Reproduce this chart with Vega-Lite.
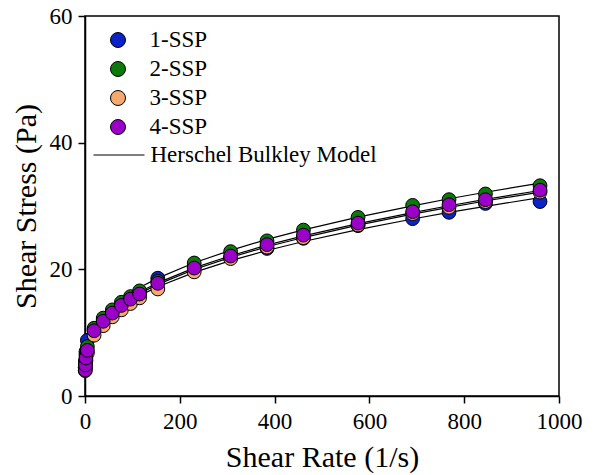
{
  "$schema": "https://vega.github.io/schema/vega-lite/v6.json",
  "width": 474,
  "height": 380,
  "autosize": {"type": "none"},
  "padding": {"left": 85, "top": 16, "right": 34, "bottom": 79},
  "background": "white",
  "datasets": {
    "pts": [
      {"s": "1-SSP", "x": 0.5, "y": 4.5}, {"s": "1-SSP", "x": 1, "y": 5.5}, {"s": "1-SSP", "x": 2, "y": 7.0}, {"s": "1-SSP", "x": 5, "y": 8.8},
      {"s": "1-SSP", "x": 19.2, "y": 10.5}, {"s": "1-SSP", "x": 38.4, "y": 12.0}, {"s": "1-SSP", "x": 57.6, "y": 13.2}, {"s": "1-SSP", "x": 76.8, "y": 14.2},
      {"s": "1-SSP", "x": 96, "y": 15.2}, {"s": "1-SSP", "x": 115.2, "y": 16.2}, {"s": "1-SSP", "x": 153.6, "y": 18.6}, {"s": "1-SSP", "x": 230.4, "y": 20.3},
      {"s": "1-SSP", "x": 307.2, "y": 21.8}, {"s": "1-SSP", "x": 384, "y": 23.3}, {"s": "1-SSP", "x": 460.8, "y": 24.9}, {"s": "1-SSP", "x": 576, "y": 26.9},
      {"s": "1-SSP", "x": 691.2, "y": 28.0}, {"s": "1-SSP", "x": 768, "y": 29.0}, {"s": "1-SSP", "x": 844.8, "y": 30.4}, {"s": "1-SSP", "x": 960, "y": 30.7},
      {"s": "2-SSP", "x": 0.5, "y": 4.5}, {"s": "2-SSP", "x": 1, "y": 5.3}, {"s": "2-SSP", "x": 2, "y": 6.5}, {"s": "2-SSP", "x": 5, "y": 7.8},
      {"s": "2-SSP", "x": 19.2, "y": 10.7}, {"s": "2-SSP", "x": 38.4, "y": 12.3}, {"s": "2-SSP", "x": 57.6, "y": 13.6}, {"s": "2-SSP", "x": 76.8, "y": 14.8},
      {"s": "2-SSP", "x": 96, "y": 15.7}, {"s": "2-SSP", "x": 115.2, "y": 16.6}, {"s": "2-SSP", "x": 153.6, "y": 18.1}, {"s": "2-SSP", "x": 230.4, "y": 21.0},
      {"s": "2-SSP", "x": 307.2, "y": 22.8}, {"s": "2-SSP", "x": 384, "y": 24.5}, {"s": "2-SSP", "x": 460.8, "y": 26.2}, {"s": "2-SSP", "x": 576, "y": 28.2},
      {"s": "2-SSP", "x": 691.2, "y": 30.1}, {"s": "2-SSP", "x": 768, "y": 31.0}, {"s": "2-SSP", "x": 844.8, "y": 31.9}, {"s": "2-SSP", "x": 960, "y": 33.2},
      {"s": "3-SSP", "x": 0.5, "y": 4.0}, {"s": "3-SSP", "x": 1, "y": 4.6}, {"s": "3-SSP", "x": 2, "y": 5.6}, {"s": "3-SSP", "x": 5, "y": 6.8},
      {"s": "3-SSP", "x": 19.2, "y": 9.6}, {"s": "3-SSP", "x": 38.4, "y": 11.1}, {"s": "3-SSP", "x": 57.6, "y": 12.5}, {"s": "3-SSP", "x": 76.8, "y": 13.6},
      {"s": "3-SSP", "x": 96, "y": 14.6}, {"s": "3-SSP", "x": 115.2, "y": 15.5}, {"s": "3-SSP", "x": 153.6, "y": 16.9}, {"s": "3-SSP", "x": 230.4, "y": 19.6},
      {"s": "3-SSP", "x": 307.2, "y": 21.7}, {"s": "3-SSP", "x": 384, "y": 23.5}, {"s": "3-SSP", "x": 460.8, "y": 25.0}, {"s": "3-SSP", "x": 576, "y": 27.0},
      {"s": "3-SSP", "x": 691.2, "y": 28.8}, {"s": "3-SSP", "x": 768, "y": 29.8}, {"s": "3-SSP", "x": 844.8, "y": 30.7}, {"s": "3-SSP", "x": 960, "y": 32.2},
      {"s": "4-SSP", "x": 0.5, "y": 4.1}, {"s": "4-SSP", "x": 1, "y": 4.9}, {"s": "4-SSP", "x": 2, "y": 6.0}, {"s": "4-SSP", "x": 5, "y": 7.2},
      {"s": "4-SSP", "x": 19.2, "y": 10.3}, {"s": "4-SSP", "x": 38.4, "y": 11.8}, {"s": "4-SSP", "x": 57.6, "y": 13.1}, {"s": "4-SSP", "x": 76.8, "y": 14.3},
      {"s": "4-SSP", "x": 96, "y": 15.3}, {"s": "4-SSP", "x": 115.2, "y": 16.1}, {"s": "4-SSP", "x": 153.6, "y": 17.8}, {"s": "4-SSP", "x": 230.4, "y": 20.2},
      {"s": "4-SSP", "x": 307.2, "y": 22.1}, {"s": "4-SSP", "x": 384, "y": 23.9}, {"s": "4-SSP", "x": 460.8, "y": 25.4}, {"s": "4-SSP", "x": 576, "y": 27.3},
      {"s": "4-SSP", "x": 691.2, "y": 29.1}, {"s": "4-SSP", "x": 768, "y": 30.2}, {"s": "4-SSP", "x": 844.8, "y": 31.0}, {"s": "4-SSP", "x": 960, "y": 32.5}
    ],
    "fit": [
      {"s": "1-SSP", "m": "Herschel Bulkley Model", "x": 1, "y": 6.37}, {"s": "1-SSP", "m": "Herschel Bulkley Model", "x": 2, "y": 6.89}, {"s": "1-SSP", "m": "Herschel Bulkley Model", "x": 5, "y": 7.85}, {"s": "1-SSP", "m": "Herschel Bulkley Model", "x": 10, "y": 8.85},
      {"s": "1-SSP", "m": "Herschel Bulkley Model", "x": 19.2, "y": 10.09}, {"s": "1-SSP", "m": "Herschel Bulkley Model", "x": 38.4, "y": 11.83}, {"s": "1-SSP", "m": "Herschel Bulkley Model", "x": 57.6, "y": 13.11}, {"s": "1-SSP", "m": "Herschel Bulkley Model", "x": 76.8, "y": 14.16},
      {"s": "1-SSP", "m": "Herschel Bulkley Model", "x": 96, "y": 15.06}, {"s": "1-SSP", "m": "Herschel Bulkley Model", "x": 115.2, "y": 15.85}, {"s": "1-SSP", "m": "Herschel Bulkley Model", "x": 153.6, "y": 17.24}, {"s": "1-SSP", "m": "Herschel Bulkley Model", "x": 230.4, "y": 19.52},
      {"s": "1-SSP", "m": "Herschel Bulkley Model", "x": 307.2, "y": 21.37}, {"s": "1-SSP", "m": "Herschel Bulkley Model", "x": 384, "y": 22.98}, {"s": "1-SSP", "m": "Herschel Bulkley Model", "x": 460.8, "y": 24.39}, {"s": "1-SSP", "m": "Herschel Bulkley Model", "x": 576, "y": 26.28},
      {"s": "1-SSP", "m": "Herschel Bulkley Model", "x": 691.2, "y": 27.95}, {"s": "1-SSP", "m": "Herschel Bulkley Model", "x": 768, "y": 28.99}, {"s": "1-SSP", "m": "Herschel Bulkley Model", "x": 844.8, "y": 29.95}, {"s": "1-SSP", "m": "Herschel Bulkley Model", "x": 960, "y": 31.31},
      {"s": "2-SSP", "m": "Herschel Bulkley Model", "x": 1, "y": 7.0}, {"s": "2-SSP", "m": "Herschel Bulkley Model", "x": 2, "y": 7.55}, {"s": "2-SSP", "m": "Herschel Bulkley Model", "x": 5, "y": 8.57}, {"s": "2-SSP", "m": "Herschel Bulkley Model", "x": 10, "y": 9.65},
      {"s": "2-SSP", "m": "Herschel Bulkley Model", "x": 19.2, "y": 10.97}, {"s": "2-SSP", "m": "Herschel Bulkley Model", "x": 38.4, "y": 12.83}, {"s": "2-SSP", "m": "Herschel Bulkley Model", "x": 57.6, "y": 14.2}, {"s": "2-SSP", "m": "Herschel Bulkley Model", "x": 76.8, "y": 15.31},
      {"s": "2-SSP", "m": "Herschel Bulkley Model", "x": 96, "y": 16.28}, {"s": "2-SSP", "m": "Herschel Bulkley Model", "x": 115.2, "y": 17.12}, {"s": "2-SSP", "m": "Herschel Bulkley Model", "x": 153.6, "y": 18.61}, {"s": "2-SSP", "m": "Herschel Bulkley Model", "x": 230.4, "y": 21.04},
      {"s": "2-SSP", "m": "Herschel Bulkley Model", "x": 307.2, "y": 23.0}, {"s": "2-SSP", "m": "Herschel Bulkley Model", "x": 384, "y": 24.72}, {"s": "2-SSP", "m": "Herschel Bulkley Model", "x": 460.8, "y": 26.23}, {"s": "2-SSP", "m": "Herschel Bulkley Model", "x": 576, "y": 28.25},
      {"s": "2-SSP", "m": "Herschel Bulkley Model", "x": 691.2, "y": 30.03}, {"s": "2-SSP", "m": "Herschel Bulkley Model", "x": 768, "y": 31.14}, {"s": "2-SSP", "m": "Herschel Bulkley Model", "x": 844.8, "y": 32.17}, {"s": "2-SSP", "m": "Herschel Bulkley Model", "x": 960, "y": 33.62},
      {"s": "3-SSP", "m": "Herschel Bulkley Model", "x": 1, "y": 6.35}, {"s": "3-SSP", "m": "Herschel Bulkley Model", "x": 2, "y": 6.89}, {"s": "3-SSP", "m": "Herschel Bulkley Model", "x": 5, "y": 7.88}, {"s": "3-SSP", "m": "Herschel Bulkley Model", "x": 10, "y": 8.92},
      {"s": "3-SSP", "m": "Herschel Bulkley Model", "x": 19.2, "y": 10.21}, {"s": "3-SSP", "m": "Herschel Bulkley Model", "x": 38.4, "y": 12.01}, {"s": "3-SSP", "m": "Herschel Bulkley Model", "x": 57.6, "y": 13.34}, {"s": "3-SSP", "m": "Herschel Bulkley Model", "x": 76.8, "y": 14.42},
      {"s": "3-SSP", "m": "Herschel Bulkley Model", "x": 96, "y": 15.36}, {"s": "3-SSP", "m": "Herschel Bulkley Model", "x": 115.2, "y": 16.18}, {"s": "3-SSP", "m": "Herschel Bulkley Model", "x": 153.6, "y": 17.62}, {"s": "3-SSP", "m": "Herschel Bulkley Model", "x": 230.4, "y": 19.98},
      {"s": "3-SSP", "m": "Herschel Bulkley Model", "x": 307.2, "y": 21.89}, {"s": "3-SSP", "m": "Herschel Bulkley Model", "x": 384, "y": 23.56}, {"s": "3-SSP", "m": "Herschel Bulkley Model", "x": 460.8, "y": 25.02}, {"s": "3-SSP", "m": "Herschel Bulkley Model", "x": 576, "y": 26.98},
      {"s": "3-SSP", "m": "Herschel Bulkley Model", "x": 691.2, "y": 28.71}, {"s": "3-SSP", "m": "Herschel Bulkley Model", "x": 768, "y": 29.79}, {"s": "3-SSP", "m": "Herschel Bulkley Model", "x": 844.8, "y": 30.79}, {"s": "3-SSP", "m": "Herschel Bulkley Model", "x": 960, "y": 32.2},
      {"s": "4-SSP", "m": "Herschel Bulkley Model", "x": 1, "y": 6.6}, {"s": "4-SSP", "m": "Herschel Bulkley Model", "x": 2, "y": 7.14}, {"s": "4-SSP", "m": "Herschel Bulkley Model", "x": 5, "y": 8.13}, {"s": "4-SSP", "m": "Herschel Bulkley Model", "x": 10, "y": 9.17},
      {"s": "4-SSP", "m": "Herschel Bulkley Model", "x": 19.2, "y": 10.46}, {"s": "4-SSP", "m": "Herschel Bulkley Model", "x": 38.4, "y": 12.26}, {"s": "4-SSP", "m": "Herschel Bulkley Model", "x": 57.6, "y": 13.59}, {"s": "4-SSP", "m": "Herschel Bulkley Model", "x": 76.8, "y": 14.67},
      {"s": "4-SSP", "m": "Herschel Bulkley Model", "x": 96, "y": 15.61}, {"s": "4-SSP", "m": "Herschel Bulkley Model", "x": 115.2, "y": 16.43}, {"s": "4-SSP", "m": "Herschel Bulkley Model", "x": 153.6, "y": 17.87}, {"s": "4-SSP", "m": "Herschel Bulkley Model", "x": 230.4, "y": 20.23},
      {"s": "4-SSP", "m": "Herschel Bulkley Model", "x": 307.2, "y": 22.14}, {"s": "4-SSP", "m": "Herschel Bulkley Model", "x": 384, "y": 23.81}, {"s": "4-SSP", "m": "Herschel Bulkley Model", "x": 460.8, "y": 25.27}, {"s": "4-SSP", "m": "Herschel Bulkley Model", "x": 576, "y": 27.23},
      {"s": "4-SSP", "m": "Herschel Bulkley Model", "x": 691.2, "y": 28.96}, {"s": "4-SSP", "m": "Herschel Bulkley Model", "x": 768, "y": 30.04}, {"s": "4-SSP", "m": "Herschel Bulkley Model", "x": 844.8, "y": 31.04}, {"s": "4-SSP", "m": "Herschel Bulkley Model", "x": 960, "y": 32.45}
    ]
  },
  "encoding": {
    "x": {"field": "x", "type": "quantitative", "scale": {"domain": [0, 1000], "nice": false},
      "axis": {"values": [0, 200, 400, 600, 800, 1000], "format": "d", "title": "Shear Rate (1/s)", "titlePadding": 9,
        "domainColor": "black", "domainWidth": 1.5, "tickColor": "black", "tickWidth": 1.5, "tickSize": 7,
        "labelFont": "Liberation Serif", "labelFontSize": 23, "labelColor": "black", "labelPadding": 7, "labelOverlap": false, "labelFlush": false,
        "titleFont": "Liberation Serif", "titleFontSize": 30, "titleFontWeight": "normal", "titleColor": "black", "grid": false}},
    "y": {"field": "y", "type": "quantitative", "scale": {"domain": [0, 60], "nice": false},
      "axis": {"values": [0, 20, 40, 60], "format": "d", "title": "Shear Stress (Pa)", "titlePadding": 8,
        "domainColor": "black", "domainWidth": 1.5, "tickColor": "black", "tickWidth": 1.5, "tickSize": 7,
        "labelFont": "Liberation Serif", "labelFontSize": 23, "labelColor": "black", "labelPadding": 6, "labelOverlap": false, "labelFlush": false,
        "titleFont": "Liberation Serif", "titleFontSize": 30, "titleFontWeight": "normal", "titleColor": "black", "grid": false}}
  },
  "layer": [
    {
      "data": {"name": "fit"},
      "mark": {"type": "line", "strokeWidth": 1.2},
      "encoding": {
        "detail": {"field": "s"},
        "stroke": {"field": "m", "type": "nominal", "scale": {"range": ["black"]}, "legend": {"title": null, "orient": "none", "legendX": 7.5, "legendY": 112.5, "symbolType": "stroke", "symbolSize": 2600, "symbolStrokeWidth": 1.2, "labelOffset": 5, "labelLimit": 0, "labelFont": "Liberation Serif", "labelFontSize": 23, "labelColor": "black", "padding": 0}}
      }
    },
    {
      "data": {"name": "pts"},
      "mark": {"type": "point", "filled": true, "shape": "circle", "size": 190, "stroke": "black", "strokeWidth": 1, "opacity": 1},
      "encoding": {
        "fill": {"field": "s", "type": "nominal", "scale": {"domain": ["1-SSP", "2-SSP", "3-SSP", "4-SSP"], "range": ["#0A22C8", "#0B7A0B", "#F5A96E", "#9B00C8"]}, "legend": {"title": null, "orient": "none", "legendX": 21.5, "legendY": 12.5, "symbolType": "circle", "symbolSize": 225, "symbolStrokeColor": "black", "symbolStrokeWidth": 1, "symbolOpacity": 1, "labelOffset": 20, "rowPadding": 5, "labelFont": "Liberation Serif", "labelFontSize": 23, "labelColor": "black", "padding": 0}}
      }
    }
  ],
  "config": {
    "font": "Liberation Serif",
    "view": {"stroke": "black", "strokeWidth": 1.5}
  }
}
